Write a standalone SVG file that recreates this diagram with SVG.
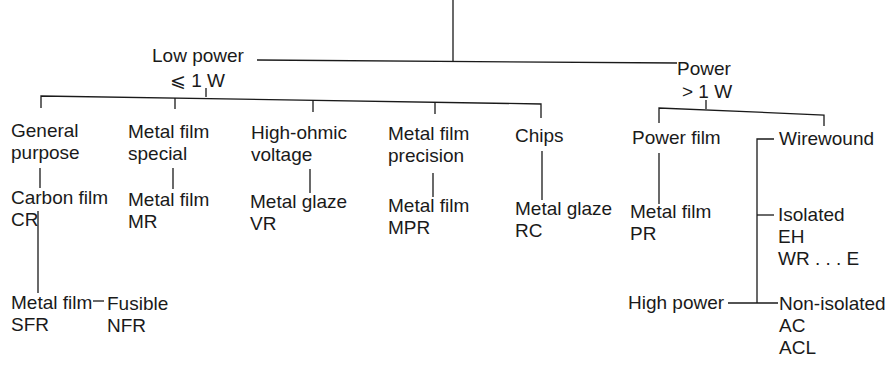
<svg xmlns="http://www.w3.org/2000/svg" width="894" height="376" viewBox="0 0 894 376">
<style>
text{font-family:"Liberation Sans","DejaVu Sans",Arial,sans-serif;font-size:19px;fill:#1a1a1a}
.c line,.c polyline{stroke:#1a1a1a;stroke-width:1.3;fill:none}
</style>
<rect width="894" height="376" fill="#fff"/>
<g class="c" id="connectors">
<line x1="453" y1="0" x2="453" y2="61"/>
<line x1="257" y1="60" x2="677" y2="63"/>
<line x1="206" y1="88" x2="206" y2="97"/>
<polyline points="41,108 41,96 541,104 541,118"/>
<line x1="175" y1="98" x2="175" y2="109"/>
<line x1="313" y1="100" x2="313" y2="112"/>
<line x1="435" y1="102" x2="435" y2="114"/>
<line x1="706" y1="100" x2="706" y2="109"/>
<polyline points="659,123 659,108 824,115 824,126"/>
<line x1="40" y1="168" x2="40" y2="188"/>
<line x1="38" y1="211" x2="38" y2="293"/>
<line x1="93" y1="301" x2="104" y2="301"/>
<line x1="173" y1="168" x2="173" y2="189"/>
<line x1="310" y1="169" x2="310" y2="193"/>
<line x1="433" y1="173" x2="433" y2="197"/>
<line x1="542" y1="151" x2="542" y2="200"/>
<line x1="659" y1="153" x2="659" y2="204"/>
<polyline points="774,139 757,139 757,303"/>
<line x1="757" y1="215" x2="774" y2="215"/>
<line x1="728" y1="303" x2="778" y2="303"/>
</g>
<g id="low"><text x="152" y="62">Low power</text><text x="170" y="87">⩽ 1 W</text></g>
<g id="power"><text x="677" y="75">Power</text><text x="682" y="98">&gt; 1 W</text></g>
<g id="general"><text x="11" y="137">General</text><text x="11" y="159">purpose</text></g>
<g id="carbon"><text x="11" y="204">Carbon film</text><text x="11" y="226">CR</text></g>
<g id="sfr"><text x="11" y="309">Metal film</text><text x="11" y="331">SFR</text></g>
<g id="nfr"><text x="107" y="310">Fusible</text><text x="107" y="332">NFR</text></g>
<g id="mfspecial"><text x="128" y="138">Metal film</text><text x="128" y="160">special</text></g>
<g id="mr"><text x="128" y="206">Metal film</text><text x="128" y="228">MR</text></g>
<g id="highohmic"><text x="251" y="139">High-ohmic</text><text x="251" y="161">voltage</text></g>
<g id="vr"><text x="250" y="208">Metal glaze</text><text x="250" y="230">VR</text></g>
<g id="precision"><text x="388" y="140">Metal film</text><text x="388" y="162">precision</text></g>
<g id="mpr"><text x="388" y="212">Metal film</text><text x="388" y="234">MPR</text></g>
<g id="chips"><text x="515" y="142">Chips</text></g>
<g id="rc"><text x="515" y="215">Metal glaze</text><text x="515" y="237">RC</text></g>
<g id="powerfilm"><text x="632" y="144">Power film</text></g>
<g id="pr"><text x="630" y="218">Metal film</text><text x="630" y="240">PR</text></g>
<g id="wirewound"><text x="779" y="145">Wirewound</text></g>
<g id="isolated"><text x="778" y="221">Isolated</text><text x="778" y="243">EH</text><text x="778" y="265">WR . . . E</text></g>
<g id="highpower"><text x="628" y="309">High power</text></g>
<g id="nonisolated"><text x="779" y="310">Non-isolated</text><text x="779" y="332">AC</text><text x="779" y="354">ACL</text></g>
</svg>
